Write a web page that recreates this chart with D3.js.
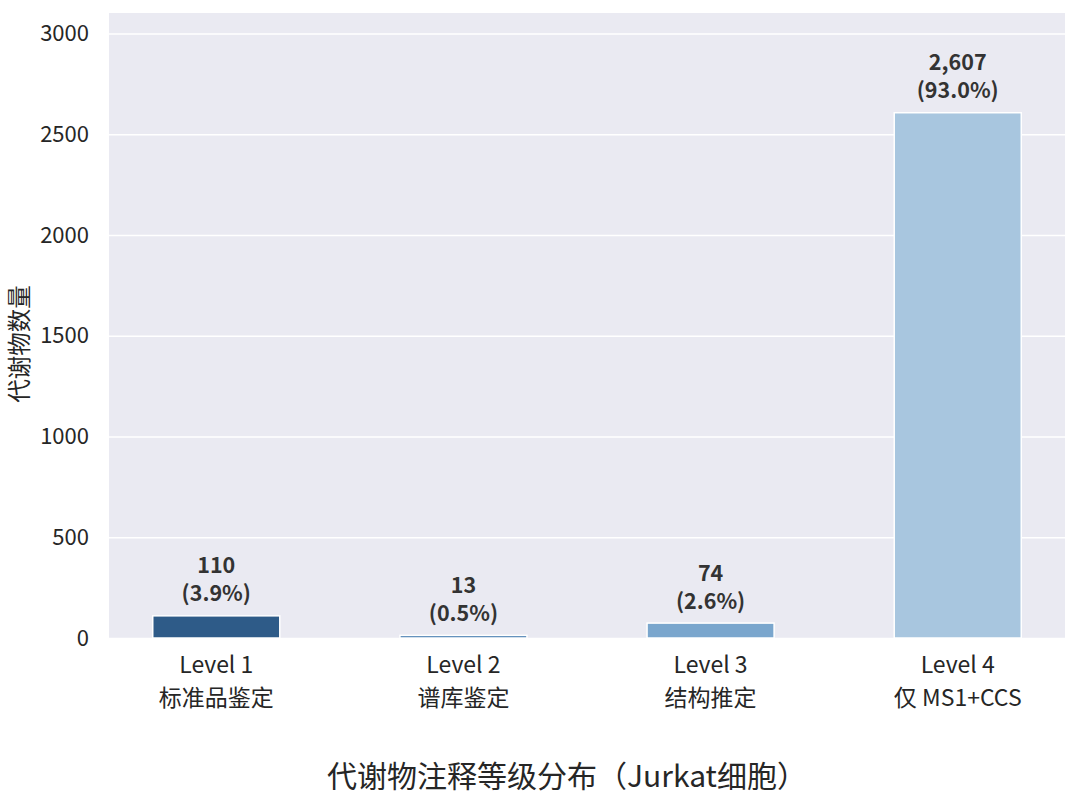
<!DOCTYPE html>
<html><head><meta charset="utf-8">
<script src="https://cdn.jsdelivr.net/npm/d3@7"></script>
<style>body{margin:0;background:#fff;} text{font-family:"Noto Sans CJK SC","Noto Sans",sans-serif;}</style>
</head><body>
<svg id="c" width="1080" height="808"></svg>
<script>
const levels = ["Level 1","Level 2","Level 3","Level 4"];
const subLabels = ["标准品鉴定","谱库鉴定","结构推定","仅 MS1+CCS"];
const counts = [110, 13, 74, 2607];
const percents = ["3.9%","0.5%","2.6%","93.0%"];
const colors = ["#2e5b88","#4f82b4","#7aa6cd","#a8c6df"];
const yTicks = [0,500,1000,1500,2000,2500,3000];
const yMax = 3102;

const svg = d3.select("#c");
const L=109, R=1065, T=13, B=638;
svg.append("rect").attr("x",L).attr("y",T).attr("width",R-L).attr("height",B-T).attr("fill","#eaeaf2");
const x = d3.scaleBand().domain(levels).range([L,R]).paddingInner(0.486).paddingOuter(0.177);
const y = d3.scaleLinear().domain([0,yMax]).range([B,T]);

const yAxis = svg.append("g").attr("transform",`translate(${L},0)`)
  .call(d3.axisLeft(y).tickValues(yTicks).tickSize(-(R-L)).tickPadding(20).tickFormat(d3.format("d")));
yAxis.select(".domain").remove();
yAxis.selectAll(".tick line").attr("stroke","#fff").attr("stroke-width",1.6);
yAxis.selectAll(".tick text").attr("fill","#262626").attr("font-size",22);

svg.selectAll(".bar").data(levels).enter().append("rect")
  .attr("x",d=>x(d)).attr("width",x.bandwidth())
  .attr("y",(d,i)=>y(counts[i])).attr("height",(d,i)=>B-y(counts[i]))
  .attr("fill",(d,i)=>colors[i]).attr("stroke","#fff").attr("stroke-width",1.5);

const fmt = d3.format(",");
levels.forEach((d,i)=>{
  const cx = x(d)+x.bandwidth()/2, top = y(counts[i]);
  svg.append("text").attr("x",cx).attr("y",top-50).attr("dy","0.35em").attr("text-anchor","middle")
    .attr("font-size",21.5).attr("font-weight","bold").attr("fill","#333").text(fmt(counts[i]));
  svg.append("text").attr("x",cx).attr("y",top-22).attr("dy","0.35em").attr("text-anchor","middle")
    .attr("font-size",21.5).attr("font-weight","bold").attr("fill","#333").text("("+percents[i]+")");
  svg.append("text").attr("x",cx).attr("y",665).attr("dy","0.35em").attr("text-anchor","middle")
    .attr("font-size",23).attr("fill","#262626").text(d);
  svg.append("text").attr("x",cx).attr("y",698).attr("dy","0.35em").attr("text-anchor","middle")
    .attr("font-size",23).attr("fill","#262626").text(subLabels[i]);
});

svg.append("text").attr("transform","translate(20,344) rotate(-90)").attr("dy","0.35em")
  .attr("text-anchor","middle").attr("font-size",23.5).attr("fill","#262626").text("代谢物数量");
svg.append("text").attr("x",567).attr("y",776).attr("dy","0.35em").attr("text-anchor","middle")
  .attr("font-size",30).attr("fill","#262626").text("代谢物注释等级分布（Jurkat细胞）");
</script>
</body></html>
